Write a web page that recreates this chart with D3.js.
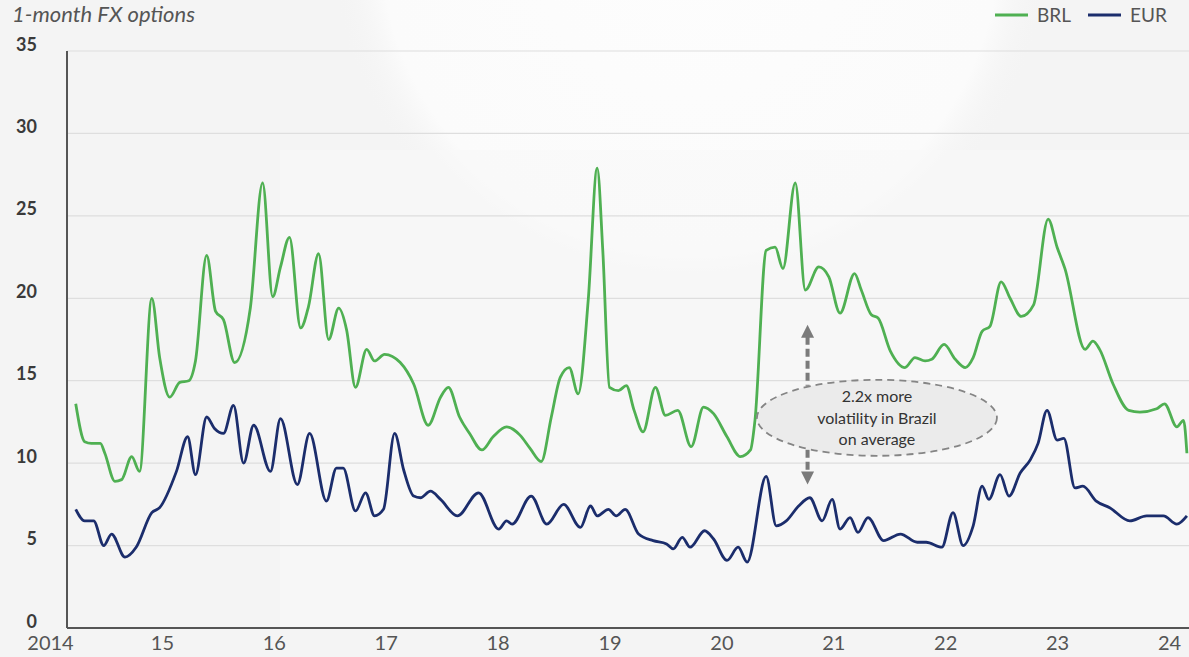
<!DOCTYPE html>
<html>
<head>
<meta charset="utf-8">
<script src="https://cdn.jsdelivr.net/npm/d3@7"></script>
<style>
  html, body { margin: 0; padding: 0; background: #f4f4f4; }
  svg { display: block; }
</style>
</head>
<body>
<svg id="chart" width="1189" height="657"></svg>
<script>
// 1-month implied volatility of FX options, BRL vs EUR (decimal year, vol %)
const brlDates = [2014.23, 2014.31, 2014.37, 2014.45, 2014.49, 2014.58, 2014.64, 2014.73, 2014.80, 2014.91,
  2014.98, 2015.07, 2015.16, 2015.24, 2015.30, 2015.40, 2015.48, 2015.55, 2015.65, 2015.79,
  2015.90, 2015.99, 2016.06, 2016.14, 2016.24, 2016.31, 2016.40, 2016.49, 2016.58, 2016.65,
  2016.73, 2016.83, 2016.90, 2016.99, 2017.13, 2017.25, 2017.38, 2017.49, 2017.56, 2017.66,
  2017.75, 2017.86, 2017.96, 2018.08, 2018.20, 2018.29, 2018.39, 2018.48, 2018.56, 2018.64,
  2018.72, 2018.81, 2018.89, 2018.94, 2019.00, 2019.08, 2019.15, 2019.22, 2019.30, 2019.41,
  2019.50, 2019.61, 2019.73, 2019.84, 2019.93, 2020.05, 2020.17, 2020.26, 2020.30, 2020.40,
  2020.48, 2020.55, 2020.66, 2020.75, 2020.87, 2020.96, 2021.06, 2021.19, 2021.25, 2021.34,
  2021.40, 2021.51, 2021.64, 2021.73, 2021.82, 2021.88, 2021.99, 2022.09, 2022.18, 2022.25,
  2022.33, 2022.40, 2022.50, 2022.58, 2022.68, 2022.79, 2022.92, 2023.00, 2023.07, 2023.25,
  2023.32, 2023.38, 2023.50, 2023.64, 2023.74, 2023.89, 2023.96, 2024.07, 2024.13, 2024.16];
const brlVol = [13.6, 11.3, 11.2, 11.2, 10.6, 8.9, 9.0, 10.4, 9.5, 20.0,
  16.4, 14.0, 14.9, 15.0, 16.2, 22.6, 19.2, 18.7, 16.1, 19.4,
  27.0, 20.1, 21.9, 23.7, 18.2, 19.5, 22.7, 17.5, 19.4, 18.1,
  14.6, 16.9, 16.2, 16.6, 16.1, 14.8, 12.3, 14.0, 14.6, 12.8,
  11.8, 10.8, 11.6, 12.2, 11.7, 10.9, 10.1, 12.8, 15.2, 15.8,
  14.2, 19.9, 27.9, 22.9, 14.6, 14.4, 14.7, 13.2, 11.9, 14.6,
  12.9, 13.2, 11.0, 13.4, 13.0, 11.6, 10.4, 10.8, 12.6, 22.9,
  23.1, 21.8, 27.0, 20.5, 21.9, 21.3, 19.1, 21.5, 20.5, 19.0,
  18.8, 16.8, 15.8, 16.4, 16.2, 16.3, 17.2, 16.3, 15.8, 16.4,
  18.0, 18.3, 21.0, 20.0, 18.9, 19.6, 24.8, 23.1, 21.8, 16.9,
  17.4, 16.9, 14.8, 13.2, 13.1, 13.3, 13.6, 12.2, 12.6, 10.6];

const eurDates = [2014.23, 2014.31, 2014.39, 2014.48, 2014.55, 2014.67, 2014.77, 2014.91, 2014.98, 2015.13,
  2015.23, 2015.30, 2015.40, 2015.47, 2015.55, 2015.64, 2015.73, 2015.82, 2015.97, 2016.06,
  2016.21, 2016.32, 2016.47, 2016.56, 2016.62, 2016.73, 2016.82, 2016.90, 2016.98, 2017.08,
  2017.16, 2017.25, 2017.31, 2017.40, 2017.49, 2017.64, 2017.83, 2018.01, 2018.08, 2018.13,
  2018.30, 2018.44, 2018.59, 2018.74, 2018.83, 2018.89, 2018.99, 2019.06, 2019.14, 2019.26,
  2019.39, 2019.51, 2019.57, 2019.65, 2019.72, 2019.85, 2019.93, 2020.05, 2020.15, 2020.23,
  2020.40, 2020.49, 2020.58, 2020.69, 2020.79, 2020.90, 2020.99, 2021.06, 2021.15, 2021.22,
  2021.31, 2021.45, 2021.60, 2021.75, 2021.83, 2021.97, 2022.07, 2022.16, 2022.25, 2022.33,
  2022.39, 2022.49, 2022.57, 2022.67, 2022.76, 2022.83, 2022.91, 2023.00, 2023.06, 2023.16,
  2023.23, 2023.35, 2023.47, 2023.65, 2023.80, 2023.95, 2024.07, 2024.16];
const eurVol = [7.2, 6.5, 6.5, 5.0, 5.7, 4.3, 4.9, 7.0, 7.3, 9.5,
  11.6, 9.3, 12.8, 12.1, 11.8, 13.5, 10.0, 12.3, 9.5, 12.7,
  8.7, 11.8, 7.7, 9.7, 9.7, 7.1, 8.2, 6.8, 7.2, 11.8,
  9.6, 8.0, 7.9, 8.3, 7.8, 6.8, 8.2, 6.0, 6.5, 6.3,
  8.0, 6.3, 7.5, 6.1, 7.4, 6.8, 7.2, 6.8, 7.2, 5.7,
  5.3, 5.1, 4.8, 5.5, 4.9, 5.9, 5.4, 4.1, 4.9, 4.0,
  9.2, 6.2, 6.5, 7.4, 7.9, 6.5, 7.8, 6.0, 6.7, 5.8,
  6.7, 5.3, 5.7, 5.2, 5.2, 4.9, 7.0, 5.0, 6.2, 8.6,
  7.8, 9.3, 8.0, 9.4, 10.2, 11.2, 13.2, 11.4, 11.5, 8.5,
  8.6, 7.7, 7.3, 6.5, 6.8, 6.8, 6.3, 6.8];

const seriesNames = ["BRL", "EUR"];
const seriesColors = ["#4fb052", "#1b2d6c"];
const yearTicks = [2014, 2015, 2016, 2017, 2018, 2019, 2020, 2021, 2022, 2023, 2024];
const yearLabels = ["2014", "15", "16", "17", "18", "19", "20", "21", "22", "23", "24"];
const volTicks = [0, 5, 10, 15, 20, 25, 30, 35];
const titleText = "1-month FX options";
const noteLines = ["2.2x more", "volatility in Brazil", "on average"];

const W = 1189, H = 657;
const svg = d3.select("#chart");

const x = d3.scaleLinear().domain([2014, 2024]).range([50, 1169]);
const y = d3.scaleLinear().domain([0, 35]).range([628, 51]);
const plotLeft = 67, plotRight = W;

// soft backdrop
const defs = svg.append("defs");
const rg = defs.append("radialGradient").attr("id", "glow")
  .attr("cx", 0.5).attr("cy", 0.5).attr("r", 0.5);
rg.append("stop").attr("offset", "0%").attr("stop-color", "#fdfdfd");
rg.append("stop").attr("offset", "86%").attr("stop-color", "#fbfbfb");
rg.append("stop").attr("offset", "100%").attr("stop-color", "#f4f4f4").attr("stop-opacity", 0);
svg.append("rect").attr("width", W).attr("height", H).attr("fill", "#f4f4f4");
svg.append("circle").attr("cx", 690).attr("cy", -60).attr("r", 360).attr("fill", "url(#glow)");
svg.append("rect").attr("x", 280).attr("y", 150).attr("width", 909).attr("height", 478)
  .attr("fill", "#f9f9f9").attr("opacity", 0.6);

// gridlines
svg.append("g").selectAll("line").data(volTicks.filter(d => d > 0)).join("line")
  .attr("x1", plotLeft).attr("x2", plotRight)
  .attr("y1", d => y(d)).attr("y2", d => y(d))
  .attr("stroke", "#dedede").attr("stroke-width", 1.2);

// y axis labels
const yAxis = d3.axisLeft(y).tickValues(volTicks).tickSize(0).tickPadding(0).tickFormat(d3.format("d"));
const gy = svg.append("g").attr("transform", "translate(37,0)").call(yAxis);
gy.select(".domain").remove();
gy.selectAll("text")
  .attr("font-family", "Lato, 'Open Sans', sans-serif")
  .attr("font-size", 18).attr("font-weight", "bold")
  .attr("fill", "#3a3a3a").attr("dy", "-0.05em");

// x axis labels
const xAxis = d3.axisBottom(x).tickValues(yearTicks).tickSize(0).tickPadding(0)
  .tickFormat((d, i) => yearLabels[i]);
const gx = svg.append("g").attr("transform", "translate(0,636)").call(xAxis);
gx.select(".domain").remove();
gx.selectAll("text")
  .attr("font-family", "Lato, 'Open Sans', sans-serif")
  .attr("font-size", 20).attr("fill", "#555");

// axis lines
svg.append("line").attr("x1", plotLeft).attr("x2", plotLeft).attr("y1", y(35)).attr("y2", y(0))
  .attr("stroke", "#555").attr("stroke-width", 2);
svg.append("line").attr("x1", plotLeft).attr("x2", plotRight).attr("y1", y(0)).attr("y2", y(0))
  .attr("stroke", "#555").attr("stroke-width", 2);

// series lines
const line = d3.line().x(d => x(d[0])).y(d => y(d[1])).curve(d3.curveMonotoneX);
const series = [
  d3.zip(brlDates, brlVol),
  d3.zip(eurDates, eurVol)
];
svg.append("g").selectAll("path").data(series).join("path")
  .attr("d", line)
  .attr("fill", "none")
  .attr("stroke", (d, i) => seriesColors[i])
  .attr("stroke-width", 2.8)
  .attr("stroke-linejoin", "round");

// annotation: spread between the two series
const noteX = 2021.39, noteV = 12.75;
const arrowX = 2020.77, arrowTop = 18.4, arrowBottom = 8.7;
const ax = x(arrowX);
const ann = svg.append("g");
const arrowColor = "#7b7b7b";
ann.append("line").attr("x1", ax).attr("x2", ax).attr("y1", y(arrowTop) + 12).attr("y2", y(noteV) - 32)
  .attr("stroke", arrowColor).attr("stroke-width", 4).attr("stroke-dasharray", "8,4");
ann.append("path")
  .attr("d", `M${ax},${y(arrowTop)} L${ax - 6.5},${y(arrowTop) + 13} L${ax + 6.5},${y(arrowTop) + 13} Z`)
  .attr("fill", arrowColor);
ann.append("line").attr("x1", ax).attr("x2", ax).attr("y1", y(noteV) + 32).attr("y2", y(arrowBottom) - 12)
  .attr("stroke", arrowColor).attr("stroke-width", 4).attr("stroke-dasharray", "8,4");
ann.append("path")
  .attr("d", `M${ax},${y(arrowBottom)} L${ax - 6.5},${y(arrowBottom) - 13} L${ax + 6.5},${y(arrowBottom) - 13} Z`)
  .attr("fill", arrowColor);

ann.append("ellipse")
  .attr("cx", x(noteX)).attr("cy", y(noteV)).attr("rx", 120).attr("ry", 38)
  .attr("fill", "#e9e9e9").attr("fill-opacity", 0.92)
  .attr("stroke", "#858585").attr("stroke-width", 1.8).attr("stroke-dasharray", "7,5");
ann.append("text")
  .attr("x", x(noteX)).attr("y", y(noteV) - 21)
  .attr("text-anchor", "middle")
  .attr("font-family", "Lato, 'Open Sans', sans-serif")
  .attr("font-size", 16).attr("fill", "#333")
  .selectAll("tspan").data(noteLines).join("tspan")
  .attr("x", x(noteX)).attr("dy", (d, i) => i === 0 ? "0.35em" : 21.5)
  .text(d => d);

// title
svg.append("text").attr("x", 12).attr("y", 22)
  .attr("font-family", "Lato, 'Open Sans', sans-serif")
  .attr("font-size", 22).attr("font-style", "italic").attr("fill", "#555")
  .text(titleText);

// legend
const legend = svg.append("g").attr("font-family", "Lato, 'Open Sans', sans-serif");
const legendX = [995, 1088];
seriesNames.forEach((name, i) => {
  legend.append("line").attr("x1", legendX[i]).attr("x2", legendX[i] + 33)
    .attr("y1", 15).attr("y2", 15)
    .attr("stroke", seriesColors[i]).attr("stroke-width", 3);
  legend.append("text").attr("x", legendX[i] + 42).attr("y", 22)
    .attr("font-size", 19).attr("fill", "#555").text(name);
});
</script>
</body>
</html>
